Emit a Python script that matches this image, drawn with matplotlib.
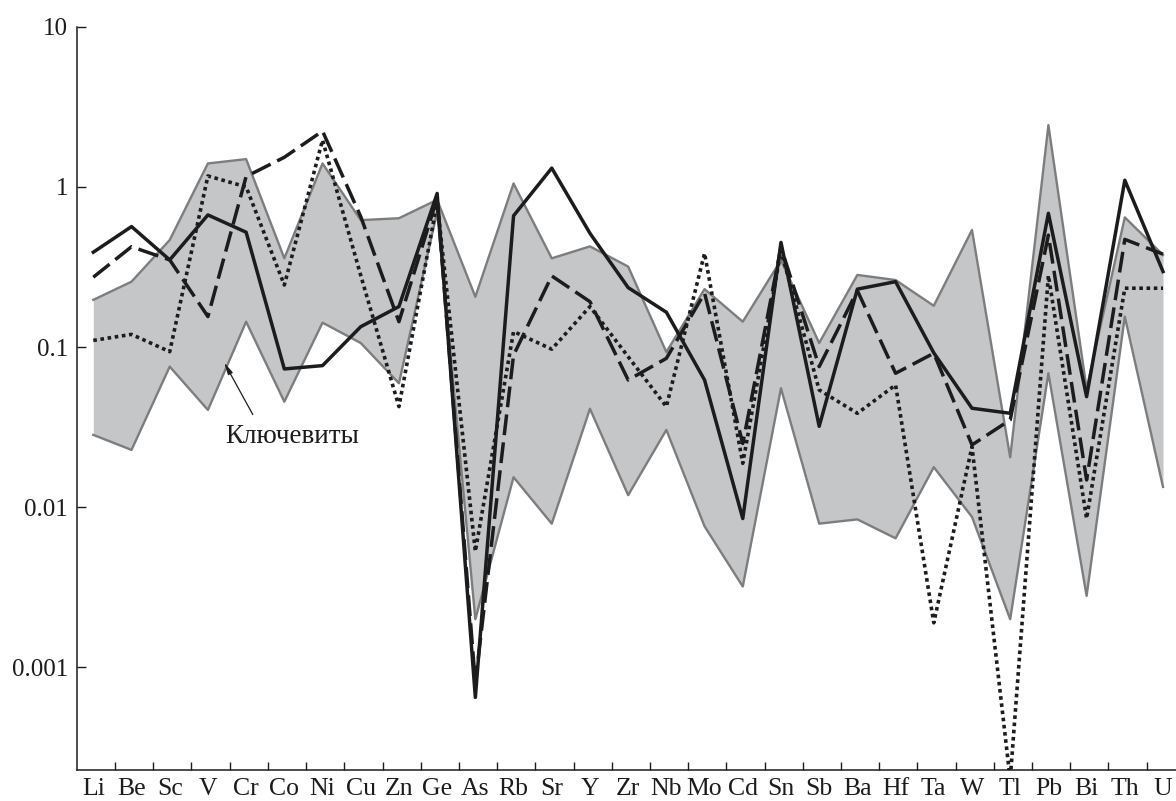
import numpy as np
import matplotlib
matplotlib.use("Agg")
import matplotlib.pyplot as plt
from matplotlib.ticker import FixedLocator, NullLocator


# ================= DATA =================

elements = ["Li", "Be", "Sc", "V", "Cr", "Co", "Ni", "Cu", "Zn", "Ge",
            "As", "Rb", "Sr", "Y", "Zr", "Nb", "Mo", "Cd", "Sn", "Sb",
            "Ba", "Hf", "Ta", "W", "Tl", "Pb", "Bi", "Th", "U"]

# Ключевиты field (upper / lower envelope)
band_upper = [0.197, 0.256, 0.466, 1.40, 1.49, 0.358, 1.40, 0.62, 0.637, 0.83,
              0.206, 1.05, 0.358, 0.425, 0.318, 0.093, 0.23, 0.144, 0.349, 0.106,
              0.282, 0.262, 0.181, 0.538, 0.0205, 2.43, 0.055, 0.645, 0.376]
band_lower = [0.0283, 0.0228, 0.0755, 0.0405, 0.144, 0.0456, 0.142, 0.106, 0.0594, 0.70,
              0.0020, 0.0154, 0.0079, 0.0412, 0.0119, 0.0304, 0.0076, 0.0032, 0.0553, 0.0079,
              0.0084, 0.0064, 0.0178, 0.0087, 0.0020, 0.0686, 0.0028, 0.155, 0.0134]

solid = [0.391, 0.565, 0.35, 0.668, 0.521, 0.073, 0.0766, 0.134, 0.179, 0.91,
         0.00065, 0.66, 1.31, 0.513, 0.235, 0.165, 0.0623, 0.0085, 0.45, 0.032,
         0.23, 0.256, 0.092, 0.0415, 0.0386, 0.684, 0.049, 1.10, 0.296]

dashed = [0.273, 0.423, 0.35, 0.155, 1.16, 1.53, 2.23, 0.652, 0.144, 0.85,
          0.0008, 0.089, 0.278, 0.192, 0.0623, 0.085, 0.217, 0.025, 0.42, 0.0755,
          0.225, 0.0686, 0.0915, 0.0245, 0.0351, 0.50, 0.0148, 0.47, 0.38]

dotted = [0.11, 0.12, 0.0936, 1.17, 1.0, 0.244, 1.96, 0.28, 0.0425, 0.80,
          0.0053, 0.125, 0.097, 0.179, 0.087, 0.0425, 0.385, 0.0188, 0.40, 0.054,
          0.0386, 0.058, 0.0019, 0.0239, 0.0002, 0.28, 0.0085, 0.233, 0.233]

ytick_vals = [0.001, 0.01, 0.1, 1, 10]
ytick_labels = ["0.001", "0.01", "0.1", "1", "10"]


# ================= PLOT =================

plt.rcParams["font.family"] = ["Liberation Serif", "DejaVu Serif"]

fig = plt.figure(figsize=(11.76, 8.01), dpi=100)
ax = fig.add_axes([0.0657, 0.0387, 0.9343, 0.928])

x = np.arange(len(elements))
ink = "#1c1c1c"

ax.fill_between(x, band_lower, band_upper, color="#c5c6c8", lw=0, zorder=1)
ax.plot(x, band_upper, color="#7d7d7d", lw=1.7, zorder=2)
ax.plot(x, band_lower, color="#7d7d7d", lw=1.7, zorder=2)

ax.plot(x, dotted, color=ink, lw=2.6, linestyle=(0, (1, 1)),
        dash_capstyle="butt", zorder=3)
ax.plot(x, dashed, color=ink, lw=2.5, linestyle=(0, (6, 2.1)),
        dash_capstyle="butt", zorder=4)
ax.plot(x, solid, color=ink, lw=2.5, zorder=5)

ax.set_yscale("log")
ax.set_ylim(0.000229, 10)
ax.set_xlim(-0.42, 28.34)

ax.yaxis.set_major_locator(FixedLocator(ytick_vals))
ax.yaxis.set_minor_locator(NullLocator())
ax.set_yticklabels(ytick_labels)

ax.set_xticks(x)
ax.set_xticklabels(elements)
ax.set_xticks(x[:-1] + 0.57, minor=True)

ax.tick_params(axis="y", which="major", direction="in", length=6.3, width=1.0,
               pad=6.5, labelsize=18, color=ink, labelcolor=ink)
ax.tick_params(axis="x", which="major", length=0, pad=6, labelsize=18.5,
               labelcolor=ink)
ax.tick_params(axis="x", which="minor", direction="in", length=6, width=1.0,
               color=ink)

for side in ["top", "right"]:
    ax.spines[side].set_visible(False)
for side in ["left", "bottom"]:
    ax.spines[side].set_linewidth(1.1)
    ax.spines[side].set_color(ink)

ax.annotate("", xy=(3.39, 0.083), xytext=(4.21, 0.0366),
            arrowprops=dict(arrowstyle="-|>,head_length=0.7,head_width=0.15",
                            color=ink, lw=0.9))
ax.text(5.2, 0.0275, "Ключевиты", fontsize=19.5, color=ink,
        ha="center", va="center")

fig.savefig("out.png", dpi=100)
